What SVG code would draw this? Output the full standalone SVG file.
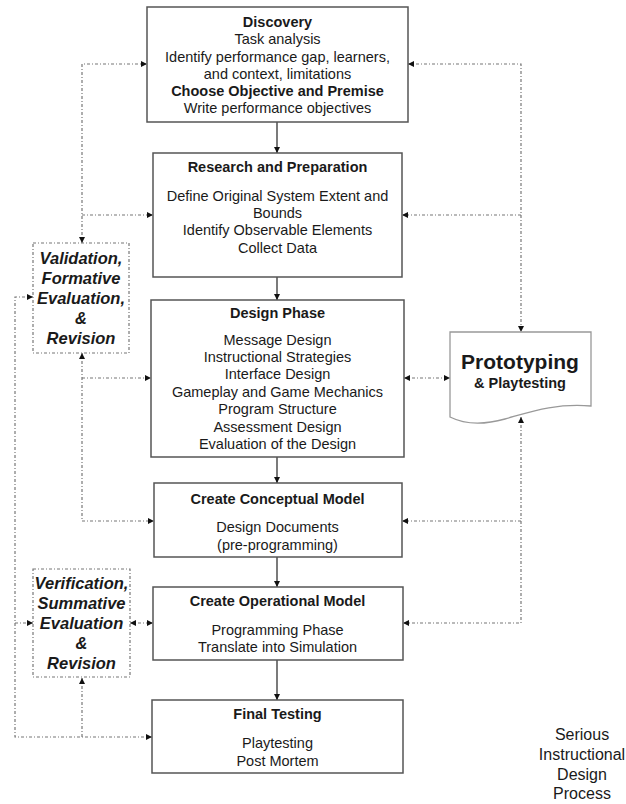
<svg xmlns="http://www.w3.org/2000/svg" width="626" height="804" viewBox="0 0 626 804">
<style>
.box{fill:#fff;stroke:#555;stroke-width:1.5}
.dbox{fill:#fff;stroke:#777;stroke-width:1.2;stroke-dasharray:3 2 1 2}
.doc{fill:#fff;stroke:#999;stroke-width:1.3}
.t{font-family:"Liberation Sans",Arial,sans-serif;font-size:14.5px;fill:#1a1a1a;text-anchor:middle}
.b{font-weight:bold}
.bi{font-family:"Liberation Sans",Arial,sans-serif;font-size:16.5px;font-weight:bold;font-style:italic;fill:#1a1a1a;text-anchor:middle}
.s{font-family:"Liberation Sans",Arial,sans-serif;font-size:16px;fill:#1a1a1a;text-anchor:middle}
.solid{fill:none;stroke:#333;stroke-width:1.3}
.dash{fill:none;stroke:#777;stroke-width:1.2;stroke-dasharray:3 2 1 2}
</style>
<defs>
<marker id="ah" viewBox="0 0 6 6" refX="6" refY="3" markerWidth="6" markerHeight="6" markerUnits="userSpaceOnUse" orient="auto-start-reverse">
<path d="M0,0 L6,3 L0,6 z" fill="#111"/>
</marker>
</defs>

<g id="connectors">
<path class="solid" d="M277,122 V153" marker-end="url(#ah)"/>
<path class="solid" d="M277,277 V300" marker-end="url(#ah)"/>
<path class="solid" d="M277,457 V483" marker-end="url(#ah)"/>
<path class="solid" d="M277,557 V587" marker-end="url(#ah)"/>
<path class="solid" d="M277,660 V700" marker-end="url(#ah)"/>
<path class="dash" d="M82,243 V64 H147" marker-start="url(#ah)" marker-end="url(#ah)"/>
<path class="dash" d="M82,215 H153" marker-end="url(#ah)"/>
<path class="dash" d="M82,353 V521 H154" marker-start="url(#ah)" marker-end="url(#ah)"/>
<path class="dash" d="M82,378 H151" marker-end="url(#ah)"/>
<path class="dash" d="M33,297 H15 V737 H152" marker-start="url(#ah)" marker-end="url(#ah)"/>
<path class="dash" d="M15,623 H33" marker-end="url(#ah)"/>
<path class="dash" d="M82,737 V678" marker-end="url(#ah)"/>
<path class="dash" d="M130,623 H153" marker-start="url(#ah)" marker-end="url(#ah)"/>
<path class="dash" d="M408,64 H521 V332" marker-start="url(#ah)" marker-end="url(#ah)"/>
<path class="dash" d="M521,215 H402" marker-end="url(#ah)"/>
<path class="dash" d="M404,378 H450" marker-start="url(#ah)" marker-end="url(#ah)"/>
<path class="dash" d="M521,417 V623 H403" marker-start="url(#ah)" marker-end="url(#ah)"/>
<path class="dash" d="M521,521 H402" marker-end="url(#ah)"/>
</g>

<g id="discovery">
<rect class="box" x="147" y="7" width="261" height="115"/>
<text class="t b" x="277.5" y="27">Discovery</text>
<text class="t" x="277.5" y="44">Task analysis</text>
<text class="t" x="277.5" y="62">Identify performance gap, learners,</text>
<text class="t" x="277.5" y="79">and context, limitations</text>
<text class="t b" x="277.5" y="96">Choose Objective and Premise</text>
<text class="t" x="277.5" y="113">Write performance objectives</text>
</g>

<g id="research">
<rect class="box" x="153" y="153" width="249" height="124"/>
<text class="t b" x="277.5" y="172">Research and Preparation</text>
<text class="t" x="277.5" y="201">Define Original System Extent and</text>
<text class="t" x="277.5" y="218">Bounds</text>
<text class="t" x="277.5" y="235">Identify Observable Elements</text>
<text class="t" x="277.5" y="253">Collect Data</text>
</g>

<g id="design">
<rect class="box" x="151" y="300" width="253" height="157"/>
<text class="t b" x="277.5" y="318">Design Phase</text>
<text class="t" x="277.5" y="345">Message Design</text>
<text class="t" x="277.5" y="362">Instructional Strategies</text>
<text class="t" x="277.5" y="379">Interface Design</text>
<text class="t" x="277.5" y="397">Gameplay and Game Mechanics</text>
<text class="t" x="277.5" y="414">Program Structure</text>
<text class="t" x="277.5" y="432">Assessment Design</text>
<text class="t" x="277.5" y="449">Evaluation of the Design</text>
</g>

<g id="conceptual">
<rect class="box" x="154" y="483" width="248" height="74"/>
<text class="t b" x="277.5" y="504">Create Conceptual Model</text>
<text class="t" x="277.5" y="532">Design Documents</text>
<text class="t" x="277.5" y="550">(pre-programming)</text>
</g>

<g id="operational">
<rect class="box" x="153" y="587" width="250" height="73"/>
<text class="t b" x="277.5" y="606">Create Operational Model</text>
<text class="t" x="277.5" y="635">Programming Phase</text>
<text class="t" x="277.5" y="652">Translate into Simulation</text>
</g>

<g id="final">
<rect class="box" x="152" y="700" width="251" height="73"/>
<text class="t b" x="277.5" y="719">Final Testing</text>
<text class="t" x="277.5" y="748">Playtesting</text>
<text class="t" x="277.5" y="766">Post Mortem</text>
</g>

<g id="validation">
<rect class="dbox" x="33" y="243" width="96" height="110"/>
<text class="bi" x="81" y="264">Validation,</text>
<text class="bi" x="81" y="284">Formative</text>
<text class="bi" x="81" y="304">Evaluation,</text>
<text class="bi" x="81" y="324">&amp;</text>
<text class="bi" x="81" y="344">Revision</text>
</g>

<g id="verification">
<rect class="dbox" x="33" y="569" width="97" height="108"/>
<text class="bi" x="81.5" y="589">Verification,</text>
<text class="bi" x="81.5" y="609">Summative</text>
<text class="bi" x="81.5" y="629">Evaluation</text>
<text class="bi" x="81.5" y="649">&amp;</text>
<text class="bi" x="81.5" y="669">Revision</text>
</g>

<g id="prototyping">
<path class="doc" d="M450,332 H591 V406 C555,403 530,412 505,419 C480,426 462,423 450,417 Z"/>
<text class="b" x="520" y="369" style="font-family:'Liberation Sans',Arial,sans-serif;font-size:21px;fill:#1a1a1a;text-anchor:middle">Prototyping</text>
<text class="b" x="520" y="388" style="font-family:'Liberation Sans',Arial,sans-serif;font-size:14.5px;fill:#1a1a1a;text-anchor:middle">&amp; Playtesting</text>
</g>

<g id="caption">
<text class="s" x="582" y="740">Serious</text>
<text class="s" x="582" y="760">Instructional</text>
<text class="s" x="582" y="780">Design</text>
<text class="s" x="582" y="799">Process</text>
</g>
</svg>
